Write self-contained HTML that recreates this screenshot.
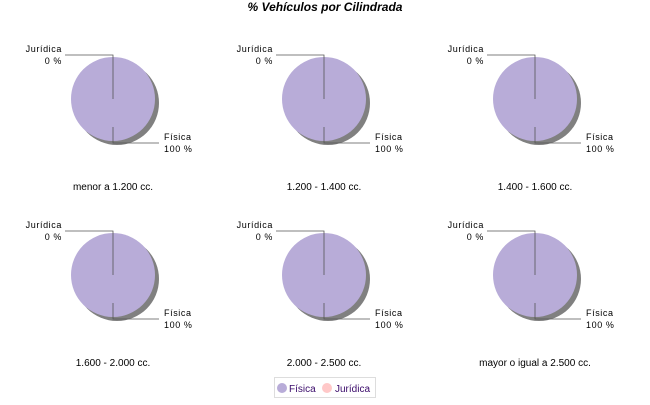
<!DOCTYPE html><html><head><style>
body{margin:0;background:#fff;width:650px;height:400px;overflow:hidden;font-family:"Liberation Sans",sans-serif}
</style></head><body>
<svg width="650" height="400" xmlns="http://www.w3.org/2000/svg" font-family="Liberation Sans, sans-serif">
<text x="325" y="11" font-size="12" font-weight="bold" font-style="italic" text-anchor="middle">% Vehículos por Cilindrada</text>
<defs><g id="p">
<circle cx="4" cy="4" r="42" fill="#808080"/>
<circle cx="0" cy="0" r="42" fill="#b8acd8"/>
<path d="M-48,-44H0V0M0,28V44H46" fill="none" stroke="#555" stroke-width="0.8"/>
<text x="-51" y="-47" font-size="9" text-anchor="end" letter-spacing="0.6">Jurídica</text>
<text x="-51" y="-35" font-size="9" text-anchor="end" letter-spacing="0.6">0 %</text>
<text x="51" y="41" font-size="9" letter-spacing="0.6">Física</text>
<text x="51" y="53" font-size="9" letter-spacing="0.6">100 %</text>
</g></defs>
<use href="#p" x="113" y="99"/><use href="#p" x="324" y="99"/><use href="#p" x="535" y="99"/>
<use href="#p" x="113" y="275"/><use href="#p" x="324" y="275"/><use href="#p" x="535" y="275"/>
<g font-size="10" text-anchor="middle">
<text x="113" y="190">menor a 1.200 cc.</text>
<text x="324" y="190">1.200 - 1.400 cc.</text>
<text x="535" y="190">1.400 - 1.600 cc.</text>
<text x="113" y="366">1.600 - 2.000 cc.</text>
<text x="324" y="366">2.000 - 2.500 cc.</text>
<text x="535" y="366">mayor o igual a 2.500 cc.</text>
</g>
<rect x="274.5" y="377.5" width="101" height="20" fill="#fff" stroke="#ddd"/>
<circle cx="282" cy="388" r="5" fill="#b8acd8"/>
<text x="289" y="392" font-size="10" fill="#3a0a6a">Física</text>
<circle cx="327" cy="388" r="5" fill="#ffc8c8"/>
<text x="335" y="392" font-size="10" fill="#3a0a6a">Jurídica</text>
</svg>
</body></html>
